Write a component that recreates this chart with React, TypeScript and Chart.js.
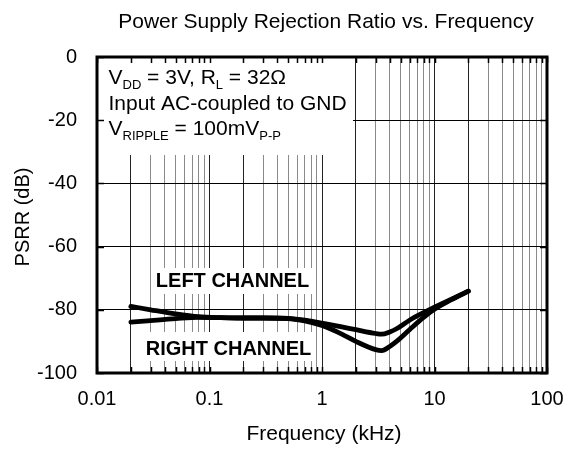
import React, { useEffect, useRef } from "react";
import { Chart, registerables } from "chart.js";

Chart.register(...registerables);

// ---- data ----
const freqKHz = [0.02, 0.03, 0.05, 0.08, 0.125, 0.2, 0.3, 0.5, 0.8, 1, 1.5, 2, 3, 3.4, 4, 4.6, 6, 8, 10, 14, 20];
const leftChannel = [-78.9, -80.0, -81.3, -82.2, -82.5, -82.6, -82.6, -82.7, -83.6, -84.2, -85.4, -86.3, -87.5, -87.7, -87.0, -86.0, -83.3, -80.9, -79.2, -76.7, -74.1];
const rightChannel = [-83.9, -83.4, -82.8, -82.4, -82.5, -82.6, -82.6, -82.8, -84.0, -85.0, -87.7, -90.0, -92.6, -92.9, -91.6, -90.0, -86.3, -82.4, -79.8, -76.9, -74.1];

const xDecades = [0.01, 0.1, 1, 10, 100];
const xTickLabels = ["0.01", "0.1", "1", "10", "100"];
const minorMultipliers = [2, 3, 4, 5, 6, 7, 8, 9];
const yTicks = [0, -20, -40, -60, -80, -100];
const yTickLabels = ["0", "-20", "-40", "-60", "-80", "-100"];

const chartTitle = "Power Supply Rejection Ratio vs. Frequency";
const xTitle = "Frequency (kHz)";
const yTitle = "PSRR (dB)";
const seriesLabels = ["LEFT CHANNEL", "RIGHT CHANNEL"];

const FONT = "'Liberation Sans', Arial, Helvetica, sans-serif";

const xGrid: number[] = [];
for (let i = 0; i < xDecades.length - 1; i++) {
  xGrid.push(xDecades[i]);
  for (const m of minorMultipliers) xGrid.push(m * xDecades[i]);
}
xGrid.push(xDecades[xDecades.length - 1]);

type Part = { t: string; sub?: boolean };

function drawRich(ctx: CanvasRenderingContext2D, x: number, y: number, parts: Part[], size: number, subSize: number) {
  let cx = x;
  for (const p of parts) {
    ctx.font = `${p.sub ? subSize : size}px ${FONT}`;
    ctx.fillText(p.t, cx, p.sub ? y + 5 : y);
    cx += ctx.measureText(p.t).width;
  }
}

const overlayPlugin = {
  id: "overlay",
  afterDraw(chart: any) {
    const ctx: CanvasRenderingContext2D = chart.ctx;
    const a = chart.chartArea;
    const ys = chart.scales.y;
    const xs = chart.scales.x;
    ctx.save();

    // white boxes behind annotation texts
    ctx.fillStyle = "#fff";
    ctx.fillRect(a.left, a.top, 353 - a.left, 155 - a.top);
    ctx.fillRect(153, 268, 159, 26);
    ctx.fillRect(143, 332, 170, 29);

    ctx.fillStyle = "#000";
    ctx.textBaseline = "alphabetic";
    ctx.textAlign = "left";
    drawRich(ctx, 108.5, 83.5, [{ t: "V" }, { t: "DD", sub: true }, { t: " = 3V, R" }, { t: "L", sub: true }, { t: " = 32\u03A9" }], 21, 13);
    drawRich(ctx, 108.5, 109.5, [{ t: "Input AC-coupled to GND" }], 21, 13);
    drawRich(ctx, 108.5, 135, [{ t: "V" }, { t: "RIPPLE", sub: true }, { t: " = 100mV" }, { t: "P-P", sub: true }], 21, 13);

    ctx.textAlign = "center";
    ctx.textBaseline = "middle";
    ctx.font = `bold 20px ${FONT}`;
    ctx.fillText(seriesLabels[0], 232.5, 281.5);
    ctx.fillText(seriesLabels[1], 228.5, 349.5);

    // titles
    ctx.font = `21px ${FONT}`;
    ctx.textBaseline = "alphabetic";
    ctx.fillText(chartTitle, 326, 28);
    ctx.fillText(xTitle, (a.left + a.right) / 2 + 2, 440);
    ctx.save();
    ctx.translate(23, 217);
    ctx.rotate(-Math.PI / 2);
    ctx.textBaseline = "middle";
    ctx.font = `20px ${FONT}`;
    ctx.fillText(yTitle, 0, 0);
    ctx.restore();

    // border ticks
    ctx.strokeStyle = "#000";
    ctx.lineWidth = 1.5;
    ctx.beginPath();
    for (const v of xGrid) {
      const px = Math.round(xs.getPixelForValue(v)) + 0.5;
      ctx.moveTo(px, a.top);
      ctx.lineTo(px, a.top + 6);
      ctx.moveTo(px, a.bottom);
      ctx.lineTo(px, a.bottom - 6);
    }
    for (const v of yTicks) {
      const py = Math.round(ys.getPixelForValue(v)) + 0.5;
      ctx.moveTo(a.left, py);
      ctx.lineTo(a.left + 7, py);
      ctx.moveTo(a.right, py);
      ctx.lineTo(a.right - 7, py);
    }
    ctx.stroke();

    // frame
    ctx.lineWidth = 3;
    ctx.strokeRect(a.left, a.top, a.right - a.left, a.bottom - a.top);
    ctx.restore();
  },
};

export default function App() {
  const ref = useRef<HTMLCanvasElement | null>(null);

  useEffect(() => {
    if (!ref.current) return;
    const mk = (vals: number[], label: string) => ({
      label,
      data: freqKHz.map((f, i) => ({ x: f, y: vals[i] })),
      borderColor: "#000",
      borderWidth: 4.8,
      pointRadius: 0,
      fill: false,
      cubicInterpolationMode: "monotone" as const,
      borderCapStyle: "round" as const,
      borderJoinStyle: "round" as const,
    });
    const chart = new Chart(ref.current, {
      type: "line",
      data: { datasets: [mk(leftChannel, seriesLabels[0]), mk(rightChannel, seriesLabels[1])] },
      options: {
        responsive: false,
        animation: false,
        layout: { padding: { left: 0, right: 32, top: 57, bottom: 0 } },
        plugins: { legend: { display: false }, tooltip: { enabled: false }, title: { display: false } },
        scales: {
          x: {
            type: "logarithmic",
            min: 0.01,
            max: 100,
            afterBuildTicks: (s: any) => {
              s.ticks = xGrid.map((v) => ({ value: v }));
            },
            afterFit: (s: any) => {
              s.height = 77;
            },
            border: { display: false },
            grid: {
              drawTicks: false,
              lineWidth: 1,
              color: (c: any) => {
                const v = c.tick ? c.tick.value : 0;
                const r = v / Math.pow(10, Math.floor(Math.log10(v) + 1e-9));
                return Math.abs(r - 1) < 1e-6 || Math.abs(r - 2) < 1e-6 ? "#222" : "#8a8a8a";
              },
            },
            ticks: {
              autoSkip: false,
              maxRotation: 0,
              minRotation: 0,
              padding: 14,
              color: "#000",
              font: { family: FONT, size: 20 },
              callback: (v: any) => {
                const i = xDecades.indexOf(Number(v));
                return i >= 0 ? xTickLabels[i] : "";
              },
            },
          },
          y: {
            type: "linear",
            min: -100,
            max: 0,
            afterBuildTicks: (s: any) => {
              s.ticks = yTicks.map((v) => ({ value: v }));
            },
            afterFit: (s: any) => {
              s.width = 97;
            },
            border: { display: false },
            grid: { drawTicks: false, lineWidth: 1, color: "#000" },
            ticks: {
              padding: 20,
              color: "#000",
              font: { family: FONT, size: 20 },
              callback: (v: any) => {
                const i = yTicks.indexOf(Number(v));
                return i >= 0 ? yTickLabels[i] : "";
              },
            },
          },
        },
      },
      plugins: [overlayPlugin],
    });
    return () => chart.destroy();
  }, []);

  return (
    <div style={{ position: "absolute", left: 0, top: 0, width: 579, height: 450, background: "#fff" }}>
      <canvas ref={ref} width={579} height={450} style={{ display: "block", width: 579, height: 450 }} />
    </div>
  );
}
